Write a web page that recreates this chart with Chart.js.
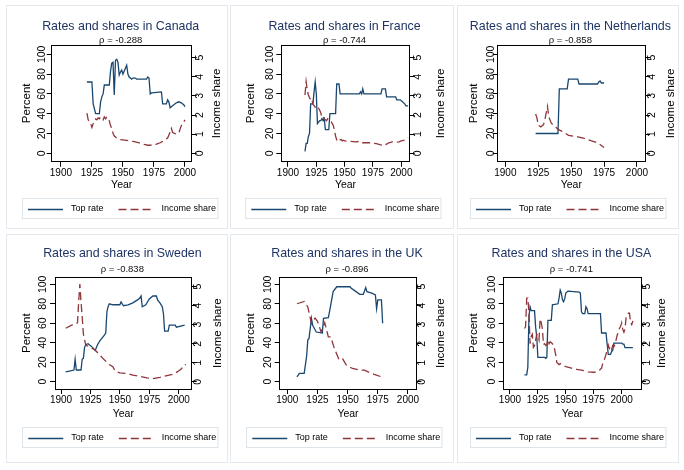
<!DOCTYPE html>
<html>
<head>
<meta charset="utf-8">
<script src="https://cdn.jsdelivr.net/npm/chart.js@4.4.1/dist/chart.umd.min.js"></script>
<style>
html,body{margin:0;padding:0;background:#fff;}
body{width:684px;height:470px;position:relative;overflow:hidden;}
.pborder{position:absolute;box-sizing:border-box;border:1px solid #e3e9ee;background:#fff;}
canvas{position:absolute;}
</style>
</head>
<body>
<script>
// ---------------- DATA ----------------
const yearTicks  = [1900, 1925, 1950, 1975, 2000];
const rateTicks  = [0, 20, 40, 60, 80, 100];
const shareTicks = [0, 1, 2, 3, 4, 5];
const seriesNames = ['Top rate', 'Income share'];
const countryNames = ['Canada', 'France', 'the Netherlands', 'Sweden', 'the UK', 'the USA'];
const rhoLabels = ['-0.288', '-0.744', '-0.858', '-0.838', '-0.896', '-0.741'];

const canadaRateYears = [1921,1925,1926,1928,1931,1932,1933,1934,1935,1939,1940,1941,1942,1943,1944,1945,1946,1947,1948,1949,1950,1952,1953,1954,1955,1957,1958,1960,1961,1969,1970,1971,1972,1973,1981,1982,1985,1986,1987,1988,1990,1993,1995,1997,1999,2000];
const canadaRate      = [72,72,50,40,40,52,57,60,69,69,83,91,92,59,94,95,92,79,82,84,80,86,89,80,77,75,76,76,75,75,77,76,60,61,62,50,50,54,52,46,48,51,52,51,49,47];
const canadaShareYears = [1921,1922,1923,1924,1925,1926,1927,1928,1929,1930,1931,1932,1933,1934,1935,1936,1937,1938,1939,1940,1941,1942,1943,1944,1945,1947,1950,1953,1955,1958,1960,1963,1966,1968,1970,1972,1974,1976,1978,1980,1982,1984,1986,1988,1989,1990,1991,1993,1995,1996,1997,1998,1999,2000];
const canadaShare      = [2.1,1.75,1.65,1.55,1.35,1.55,1.7,1.8,1.75,1.85,1.8,1.9,1.85,1.75,1.9,1.8,1.9,1.75,1.7,1.45,1.3,1.05,0.9,0.85,0.8,0.72,0.7,0.68,0.65,0.62,0.6,0.55,0.48,0.45,0.42,0.42,0.45,0.45,0.5,0.55,0.62,0.7,0.8,1.1,1.3,1.1,1.05,1.0,1.05,1.25,1.45,1.5,1.65,1.75];

const franceRateYears = [1915,1916,1917,1918,1919,1920,1922,1923,1924,1925,1926,1928,1929,1930,1931,1932,1933,1936,1937,1942,1943,1945,1946,1963,1964,1965,1966,1967,1982,1983,1986,1987,1995,1996,1999,2000,2001,2003,2004,2006];
const franceRate      = [2,10,10,17,20,50,50,62,72,60,30,33,33,35,33,35,24,24,40,40,70,70,60,60,62,60,65,60,60,65,65,57,57,54,54,53,52,50,48,48];
const franceShareYears = [1915,1916,1917,1918,1919,1920,1921,1922,1923,1924,1925,1926,1927,1928,1929,1930,1931,1932,1933,1934,1935,1936,1937,1938,1939,1940,1941,1942,1943,1944,1945,1946,1947,1948,1949,1950,1955,1960,1963,1965,1970,1973,1975,1978,1981,1983,1985,1987,1989,1992,1995,1998,2000,2002,2004,2006];
const franceShare      = [3.05,3.75,3.3,3.05,2.9,2.8,2.85,2.55,2.5,2.4,2.4,2.3,2.35,2.25,2.1,1.85,1.9,1.8,1.75,1.7,1.8,1.75,1.72,1.7,1.55,1.45,1.2,0.9,0.7,0.6,0.65,0.7,0.72,0.65,0.68,0.65,0.62,0.6,0.62,0.55,0.55,0.55,0.52,0.5,0.45,0.42,0.4,0.48,0.55,0.6,0.58,0.6,0.65,0.68,0.7,0.8];

const nethRateYears = [1923,1940,1941,1947,1948,1955,1956,1970,1971,1972,1973,1975];
const nethRate      = [20,20,65,65,75,75,70,70,72,73,71,71];
const nethShareYears = [1923,1924,1925,1927,1929,1930,1931,1932,1933,1935,1937,1940,1944,1948,1955,1960,1965,1970,1975];
const nethShare      = [2.05,1.85,1.47,1.38,1.5,1.73,2.1,2.45,1.9,1.56,1.47,1.25,1.12,0.94,0.86,0.78,0.66,0.55,0.3];

const swedenRateYears = [1904,1908,1911,1912,1913,1917,1918,1919,1920,1921,1923,1927,1929,1931,1933,1935,1937,1938,1939,1940,1941,1944,1950,1951,1953,1957,1961,1965,1967,1968,1969,1972,1975,1978,1981,1982,1984,1986,1987,1988,1991,1992,1997,1998,2005];
const swedenRate      = [10,11,12,23,12,12,23,24,35,38,39,35,32,38,42,45,48,50,72,77,80,79,79,82,78,79,81,84,86,88,77,79,85,88,88,84,81,77,70,52,52,58,58,56,58];
const swedenShareYears = [1904,1909,1912,1914,1915,1916,1917,1918,1919,1921,1924,1929,1933,1937,1941,1944,1946,1950,1956,1961,1967,1973,1978,1984,1990,1995,1999,2002,2005,2006];
const swedenShare      = [2.81,2.98,3.0,3.1,4.2,5.13,4.2,3.4,2.5,1.93,1.84,1.67,1.4,1.14,0.91,0.79,0.56,0.47,0.44,0.35,0.28,0.21,0.16,0.23,0.32,0.39,0.53,0.67,0.88,0.91];

const ukRateYears = [1908,1910,1914,1916,1917,1918,1920,1921,1924,1929,1930,1934,1935,1938,1941,1952,1953,1957,1960,1963,1965,1966,1970,1973,1974,1975,1978,1979];
const ukRate      = [5,8.5,8.5,26,43,44.5,65,58,51,50,65,65.7,72,92.5,97.5,97.5,96,92.5,89.7,89.7,96.6,92.5,91,89,75,84,84,60];
const ukShareYears = [1908,1914,1917,1920,1923,1925,1928,1931,1934,1936,1939,1943,1946,1949,1954,1960,1964,1967,1972,1978,1979];
const ukShare      = [4.1,4.22,3.93,3.06,3.35,3.18,2.62,3.11,2.36,2.36,1.75,1.14,1.19,0.87,0.7,0.61,0.61,0.52,0.39,0.26,0.26];

const usaRateYears = [1913,1915,1916,1917,1918,1919,1922,1923,1924,1925,1931,1932,1933,1934,1937,1938,1943,1944,1945,1946,1947,1948,1949,1950,1952,1962,1963,1964,1965,1967,1968,1969,1970,1981,1982,1986,1987,1988,1990,1991,1992,1993,2000,2001,2002,2003,2010];
const usaRate      = [7,7,15,67,77,73,73,56,46,25,25,24,25,63,63,79,80,86,94,91,84,82,85,91,93,92,91,72,70,70,77,75,70,70,50,50,38.5,28,28,31,32,39.6,39.6,38.6,38.6,35,35];
const usaShareYears = [1913,1914,1915,1916,1917,1918,1919,1920,1921,1922,1923,1924,1925,1926,1927,1928,1929,1930,1931,1932,1933,1934,1935,1936,1937,1938,1939,1940,1941,1942,1943,1944,1945,1946,1948,1950,1955,1960,1965,1970,1975,1978,1980,1982,1983,1985,1986,1987,1988,1989,1990,1991,1992,1993,1994,1995,1996,1997,1998,1999,2000,2001,2002,2003,2004,2005,2006,2007,2008,2009,2010];
const usaShare      = [2.8,2.9,4.4,4.4,3.6,2.0,2.4,2.5,1.8,1.9,2.2,2.5,2.4,2.2,3.3,3.1,2.8,1.95,2.0,1.9,1.95,2.2,2.0,2.1,2.05,2.0,1.9,1.7,1.4,1.0,0.96,0.9,0.95,0.9,0.85,0.8,0.72,0.65,0.6,0.52,0.5,0.52,0.6,0.72,0.95,1.25,1.45,1.67,1.93,1.75,1.85,1.7,1.9,1.84,1.95,2.2,2.46,2.6,2.8,2.9,3.1,2.75,2.6,2.8,3.4,3.5,3.6,3.6,3.1,3.0,3.2];

// ---------------- LAYOUT (positions / styles only) ----------------
const FONT = '"Liberation Sans", Arial, Helvetica, sans-serif';
const RATE_COLOR = '#1a476f';
const SHARE_COLOR = '#90353b';
const TITLE_COLOR = '#1f3463';

const rows = [
  {T: 40,   B: 156.7, titlePad: 14.5, subTop: 1.5, subBot: 0,   yearC: 180,   rateR: [-8.5, 109.4], shareR: [-0.44, 5.66], legY: 203.5},
  {T: 43.3, B: 155,   titlePad: 12.7, subTop: 3.8, subBot: 2.8, yearC: 179.7, rateR: [-7.5, 107.2], shareR: [-0.38, 5.49], legY: 203.7}
];
const frames = [
  {left: 6,   top: 5,   w: 222, h: 224, row: 0, L: 45.7, R: 185.7, xr: [1892.6, 2005.4], lOff: 9.2,  rOff: 8.3, pctX: 21,   incOff: 25.6, legX: 22},
  {left: 230, top: 5,   w: 224, h: 224, row: 0, L: 51.3, R: 179.7, xr: [1894.1, 2007.4], lOff: 11.6, rOff: 8.0, pctX: 20.5, incOff: 31.1, legX: 21.3},
  {left: 457, top: 5,   w: 222, h: 224, row: 0, L: 40.7, R: 188,   xr: [1894.2, 2006.1], lOff: 7.0,  rOff: 6.7, pctX: 17.3, incOff: 26,   legX: 19},
  {left: 6,   top: 234, w: 222, h: 229, row: 1, L: 49,   R: 185.7, xr: [1894.9, 2011.0], lOff: 12.2, rOff: 6.7, pctX: 20.7, incOff: 25.8, legX: 22.3},
  {left: 230, top: 234, w: 224, h: 229, row: 1, L: 49.7, R: 186.3, xr: [1893.7, 2006.9], lOff: 11.4, rOff: 6.2, pctX: 20.5, incOff: 25,   legX: 22.3},
  {left: 457, top: 234, w: 222, h: 229, row: 1, L: 46.7, R: 184,   xr: [1894.4, 2017.3], lOff: 11.5, rOff: 5.8, pctX: 17,   incOff: 20.8, legX: 19}
];

const series = [
  [canadaRateYears, canadaRate, canadaShareYears, canadaShare],
  [franceRateYears, franceRate, franceShareYears, franceShare],
  [nethRateYears, nethRate, nethShareYears, nethShare],
  [swedenRateYears, swedenRate, swedenShareYears, swedenShare],
  [ukRateYears, ukRate, ukShareYears, ukShare],
  [usaRateYears, usaRate, usaShareYears, usaShare]
];

// ---------------- PLUGINS ----------------
const frameBox = {
  id: 'frameBox',
  afterDraw(chart) {
    const a = chart.chartArea, ctx = chart.ctx;
    const al = v => Math.round(v - 0.5) + 0.5;
    ctx.save();
    ctx.strokeStyle = '#000';
    ctx.lineWidth = 1;
    ctx.strokeRect(al(a.left), al(a.top), al(a.right) - al(a.left), al(a.bottom) - al(a.top));
    ctx.restore();
  }
};

const rightTitle = {
  id: 'rightTitle',
  afterDraw(chart, args, o) {
    if (!o || !o.text) return;
    const a = chart.chartArea, ctx = chart.ctx;
    ctx.save();
    ctx.translate(a.right + o.offset, (a.top + a.bottom) / 2);
    ctx.rotate(-Math.PI / 2);
    ctx.font = '11.5px ' + FONT;
    ctx.fillStyle = '#000';
    ctx.textAlign = 'center';
    ctx.textBaseline = 'middle';
    ctx.fillText(o.text, 0, 0);
    ctx.restore();
  }
};

const stataLegend = {
  id: 'stataLegend',
  afterDraw(chart, args, o) {
    const ctx = chart.ctx;
    ctx.save();
    ctx.font = '9px ' + FONT;
    ctx.textBaseline = 'middle';
    ctx.textAlign = 'left';
    let x = o.x;
    const y = o.y;
    const start = x;
    chart.data.datasets.forEach((ds, i) => {
      if (i > 0) x += 15;
      ctx.strokeStyle = ds.borderColor;
      ctx.lineWidth = ds.borderWidth;
      ctx.setLineDash(ds.borderDash || []);
      ctx.beginPath();
      ctx.moveTo(x, Math.round(y) + 0.5);
      ctx.lineTo(x + 35, Math.round(y) + 0.5);
      ctx.stroke();
      ctx.setLineDash([]);
      x += 35 + 8;
      ctx.fillStyle = '#000';
      ctx.fillText(ds.label, x, y);
      x += ctx.measureText(ds.label).width;
    });
    ctx.strokeStyle = '#dde4ea';
    ctx.lineWidth = 1;
    const bx = Math.round(start - 6) + 0.5, by = Math.round(y - 10.3) + 0.5;
    ctx.strokeRect(bx, by, Math.round(x + 2) - bx, 20);
    ctx.restore();
  }
};

// ---------------- BUILD ----------------
const measure = document.createElement('canvas').getContext('2d');
measure.font = '10.5px ' + FONT;
const wide100 = measure.measureText('100').width;
const wide5 = measure.measureText('5').width;

const toPoints = (xs, ys) => xs.map((x, i) => ({x: x, y: ys[i]}));

frames.forEach((f, k) => {
  const r = rows[f.row];
  const border = document.createElement('div');
  border.className = 'pborder';
  border.style.cssText = `left:${f.left}px;top:${f.top}px;width:${f.w}px;height:${f.h}px;`;
  document.body.appendChild(border);

  const cv = document.createElement('canvas');
  cv.width = f.w; cv.height = f.h;
  cv.style.cssText = `left:${f.left}px;top:${f.top}px;width:${f.w}px;height:${f.h}px;`;
  document.body.appendChild(cv);

  const p = 2 * ((f.L + f.R) / 2 - 1) - f.w;
  const hx = r.yearC + 6 - r.B;
  const padBottom = f.h - r.B - hx;
  const s = series[k];

  const gridOpts = {display: true, drawOnChartArea: false, drawTicks: true, tickLength: 5, color: '#000', lineWidth: 1};
  const borderOpts = {display: true, color: '#000', width: 1};

  new Chart(cv, {
    type: 'line',
    data: {
      datasets: [
        {label: seriesNames[0], data: toPoints(s[0], s[1]), yAxisID: 'y', borderColor: RATE_COLOR, backgroundColor: RATE_COLOR,
         borderWidth: 1.3, pointRadius: 0, tension: 0, fill: false, order: 1},
        {label: seriesNames[1], data: toPoints(s[2], s[3]), yAxisID: 'y2', borderColor: SHARE_COLOR, backgroundColor: SHARE_COLOR,
         borderWidth: 1.3, borderDash: [8, 4], pointRadius: 0, tension: 0, fill: false, order: 0}
      ]
    },
    options: {
      responsive: false,
      devicePixelRatio: 1,
      animation: false,
      events: [],
      layout: {padding: {left: p, right: 0, top: 0, bottom: padBottom}},
      font: {family: FONT},
      plugins: {
        legend: {display: false},
        tooltip: {enabled: false},
        title: {display: true, text: 'Rates and shares in ' + countryNames[k], color: TITLE_COLOR,
                font: {family: FONT, size: 12.4, weight: 'normal', lineHeight: '14px'}, padding: {top: r.titlePad, bottom: 0}},
        subtitle: {display: true, text: 'ρ = ' + rhoLabels[k], color: '#111',
                   font: {family: FONT, size: 9.5, weight: 'normal', lineHeight: '10px'}, padding: {top: r.subTop, bottom: r.subBot}},
        rightTitle: {text: 'Income share', offset: f.incOff},
        stataLegend: {x: f.legX, y: r.legY}
      },
      scales: {
        x: {
          type: 'linear', min: f.xr[0], max: f.xr[1],
          afterBuildTicks: sc => { sc.ticks = yearTicks.map(v => ({value: v})); },
          afterFit: sc => { sc.height = hx; },
          ticks: {font: {family: FONT, size: 10}, color: '#000', padding: 0.5, maxRotation: 0, minRotation: 0, autoSkip: false,
                  callback: v => String(v)},
          grid: gridOpts, border: borderOpts,
          title: {display: true, text: 'Year', color: '#000', font: {family: FONT, size: 10.5, lineHeight: '12px'}, padding: {top: 0, bottom: 0}}
        },
        y: {
          type: 'linear', position: 'left', min: r.rateR[0], max: r.rateR[1],
          afterBuildTicks: sc => { sc.ticks = rateTicks.map(v => ({value: v})); },
          afterFit: sc => { sc.width = f.L - p; },
          ticks: {font: {family: FONT, size: 10.5}, color: '#000', minRotation: 90, maxRotation: 90, crossAlign: 'center',
                  padding: f.lOff - 5 - wide100 / 2, autoSkip: false, callback: v => String(v)},
          grid: gridOpts, border: borderOpts,
          title: {display: true, text: 'Percent', color: '#000', font: {family: FONT, size: 11.5, lineHeight: '13px'},
                  padding: {top: f.pctX - p - 6.5, bottom: 0}}
        },
        y2: {
          type: 'linear', position: 'right', min: r.shareR[0], max: r.shareR[1],
          afterBuildTicks: sc => { sc.ticks = shareTicks.map(v => ({value: v})); },
          afterFit: sc => { sc.width = f.w - f.R; },
          ticks: {font: {family: FONT, size: 10.5}, color: '#000', minRotation: 90, maxRotation: 90, crossAlign: 'center',
                  padding: f.rOff - 5 - wide5 / 2, autoSkip: false, callback: v => String(v)},
          grid: gridOpts, border: borderOpts,
          title: {display: false}
        }
      }
    },
    plugins: [frameBox, rightTitle, stataLegend]
  });
});
</script>
</body>
</html>
